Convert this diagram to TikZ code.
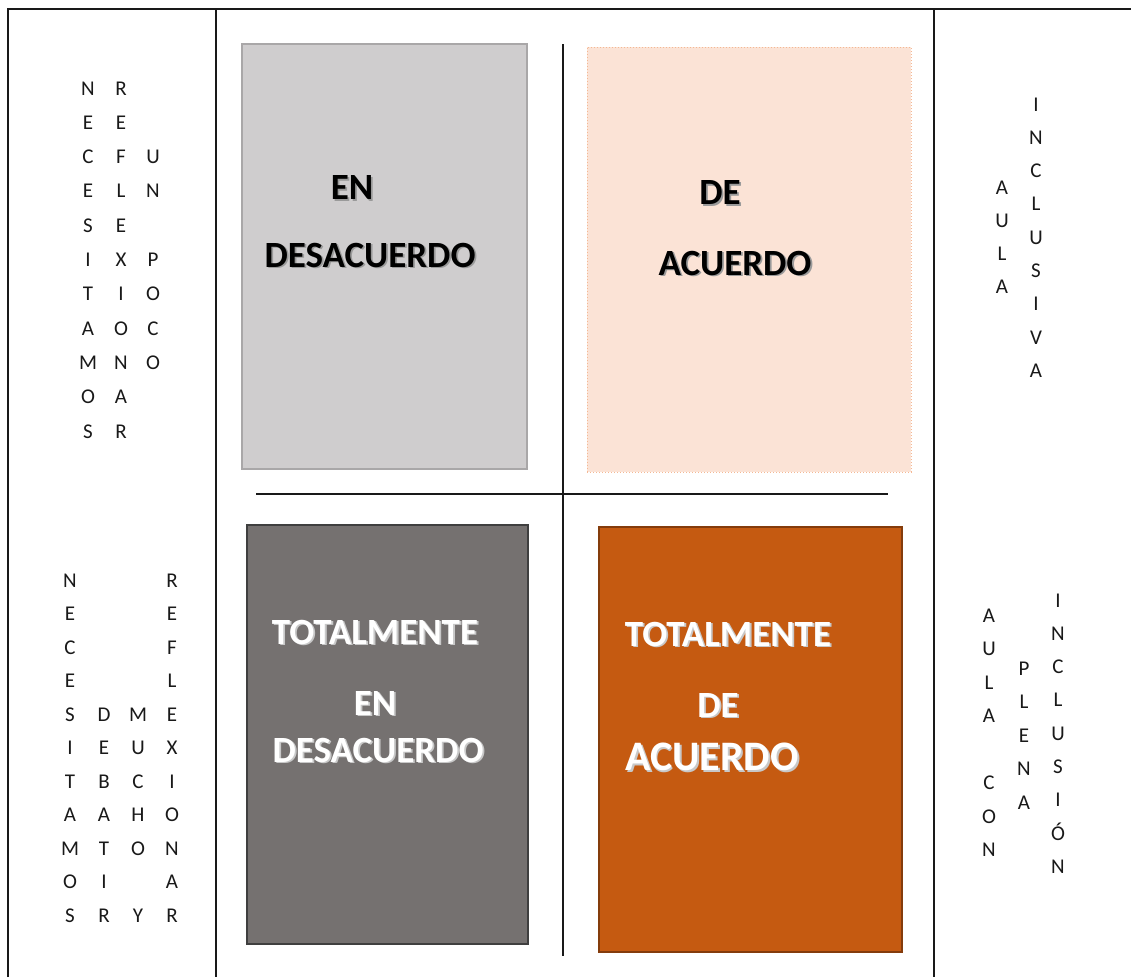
\documentclass[tikz,border=0pt]{standalone}
\usepackage{fontspec}
\setmainfont{Carlito}
\definecolor{lgray}{HTML}{CFCDCE}
\definecolor{lgrayb}{HTML}{A9A7A8}
\definecolor{peach}{HTML}{FBE3D6}
\definecolor{peachb}{HTML}{F4B894}
\definecolor{dgray}{HTML}{757170}
\definecolor{dgrayb}{HTML}{3F3F3F}
\definecolor{orng}{HTML}{C55A11}
\definecolor{orngb}{HTML}{843C0C}
\definecolor{shadowgray}{HTML}{9A9A9A}
\definecolor{shadowlight}{HTML}{C8C8C8}
\tikzset{
  frame/.style={line width=2pt,draw=black!90},
  divider/.style={line width=1.6pt,draw=black!90},
  vl/.style={font=\fontsize{21}{25}\selectfont,anchor=base,inner sep=0pt,text=black!90},
  boxnode/.style={anchor=north west,inner sep=0pt,outer sep=0pt},
  lbl/.style={font=\bfseries\fontsize{37}{44}\selectfont,inner sep=0pt},
  lblbig/.style={font=\bfseries\fontsize{42}{50}\selectfont,inner sep=0pt},
}
\newcommand{\vcolumn}[5]{%
  \foreach \l [count=\i] in {#5} {
    \node[vl] (#4-\i) at ({#1},{#2+(\i-1)*#3}) {\l};
  }%
}
% name, x, y, style, textcolor, shadowcolor, text
\newcommand{\shlabel}[7]{%
  \node[#4,text=#6] (#1s) at ({#2+1.8},{#3+1.8}) {#7};
  \node[#4,text=#5] (#1) at (#2,#3) {#7};
}
\begin{document}
\begin{tikzpicture}[x=1pt,y=-1pt]
\useasboundingbox[fill=white] (0,0) rectangle (1131,977);

% table frame
\coordinate (tl) at (8,9);
\coordinate (tr) at (1131,9);
\coordinate (bl) at (8,977);
\coordinate (c1t) at (216,9);
\coordinate (c1b) at (216,977);
\coordinate (c2t) at (934,9);
\coordinate (c2b) at (934,977);
\draw[frame] (bl) -- (tl) -- (tr);
\draw[frame] (c1t) -- (c1b);
\draw[frame] (c2t) -- (c2b);

% boxes
\node[boxnode,fill=lgray,draw=lgrayb,line width=1.2pt,minimum width=285,minimum height=425] (b1) at (242,44) {};
\node[boxnode,fill=peach,draw=peachb,dotted,line width=1pt,minimum width=324,minimum height=425] (b2) at (587,47) {};
\node[boxnode,fill=dgray,draw=dgrayb,line width=1.5pt,minimum width=281,minimum height=419] (b3) at (247,525) {};
\node[boxnode,fill=orng,draw=orngb,line width=1.5pt,minimum width=303,minimum height=425] (b4) at (599,527) {};

% dividers
\coordinate (vt) at (563,44);
\coordinate (vb) at (563,956);
\coordinate (hl) at (256,494);
\coordinate (hr) at (888,494);
\draw[divider] (vt) -- (vb);
\draw[divider] (hl) -- (hr);

% box labels
\shlabel{l1a}{352}{188}{lbl}{black}{shadowgray}{EN}
\shlabel{l1b}{370}{255}{lbl}{black}{shadowgray}{DESACUERDO}
\shlabel{l2a}{720}{193}{lbl}{black}{shadowgray}{DE}
\shlabel{l2b}{735}{263}{lbl}{black}{shadowgray}{ACUERDO}
\shlabel{l3a}{375}{632}{lbl}{white}{shadowlight}{TOTALMENTE}
\shlabel{l3b}{375}{703}{lbl}{white}{shadowlight}{EN}
\shlabel{l3c}{378}{750}{lbl}{white}{shadowlight}{DESACUERDO}
\shlabel{l4a}{728}{634}{lbl}{white}{shadowlight}{TOTALMENTE}
\shlabel{l4b}{718}{705}{lbl}{white}{shadowlight}{DE}
\shlabel{l4c}{712}{757}{lblbig}{white}{shadowlight}{ACUERDO}

% left column, top
\vcolumn{88}{95}{34.3}{ta}{N,E,C,E,S,I,T,A,M,O,S}
\vcolumn{121}{95}{34.3}{tb}{R,E,F,L,E,X,I,O,N,A,R}
\vcolumn{153}{95}{34.3}{tc}{{},{},U,N,{},P,O,C,O}

% left column, bottom
\vcolumn{70}{587}{33.5}{ba}{N,E,C,E,S,I,T,A,M,O,S}
\vcolumn{104}{587}{33.5}{bb}{{},{},{},{},D,E,B,A,T,I,R}
\vcolumn{138}{587}{33.5}{bc}{{},{},{},{},M,U,C,H,O,{},Y}
\vcolumn{172}{587}{33.5}{bd}{R,E,F,L,E,X,I,O,N,A,R}

% right column, top
\vcolumn{1002}{194}{33}{ra}{A,U,L,A}
\vcolumn{1036}{111}{33.3}{rb}{I,N,C,L,U,S,I,V,A}

% right column, bottom
\vcolumn{989}{622}{33.5}{rc}{A,U,L,A,{},C,O,N}
\vcolumn{1024}{675}{33.5}{rd}{P,L,E,N,A}
\vcolumn{1058}{607}{33.3}{re}{I,N,C,L,U,S,I,Ó,N}
\end{tikzpicture}
\end{document}
